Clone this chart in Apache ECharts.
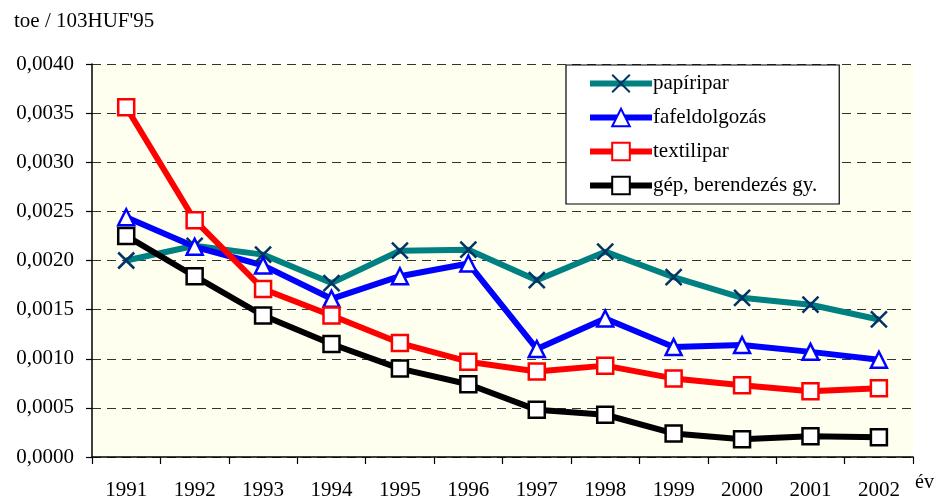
<!DOCTYPE html>
<html><head><meta charset="utf-8">
<script src="https://cdn.jsdelivr.net/npm/echarts@6/dist/echarts.min.js"></script>
<style>html,body{margin:0;padding:0;background:#fff}#c{width:937px;height:501px}</style>
</head><body><div id="c"></div>
<script>
const years = ['1991','1992','1993','1994','1995','1996','1997','1998','1999','2000','2001','2002'];
const yTicks = [0, 0.0005, 0.001, 0.0015, 0.002, 0.0025, 0.003, 0.0035, 0.004];
const papiripar = [0.00200, 0.00215, 0.00206, 0.00177, 0.00210, 0.00211, 0.00180, 0.00209, 0.00183, 0.00162, 0.00155, 0.00140];
const fafeldolgozas = [0.00244, 0.00214, 0.00195, 0.00161, 0.00184, 0.00197, 0.00110, 0.00141, 0.00112, 0.00114, 0.00107, 0.00099];
const textilipar = [0.00356, 0.00241, 0.00171, 0.00144, 0.00116, 0.00097, 0.00087, 0.00093, 0.00080, 0.00073, 0.00067, 0.00070];
const gep = [0.00225, 0.00184, 0.00144, 0.00115, 0.00090, 0.00074, 0.00048, 0.00043, 0.00024, 0.00018, 0.00021, 0.00020];

const font = 'Liberation Serif';
const chart = echarts.init(document.getElementById('c'));
function mk(name, data, color, symbol, size, symColor, symBorder) {
  return {
    name, type: 'line', data,
    symbol, symbolSize: size, showAllSymbol: true,
    lineStyle: { color, width: 6 },
    itemStyle: { color: symColor, borderColor: symBorder, borderWidth: 2.5 },
    emphasis: { disabled: true },
    z: 2
  };
}
chart.setOption({
  animation: false,
  title: { text: "toe / 103HUF'95", left: 9, top: 6,
    textStyle: { fontFamily: font, fontSize: 21, fontWeight: 'normal', color: '#000' } },
  grid: { left: 92, right: 17, top: 64, bottom: 40, show: true, backgroundColor: '#FFFFF0', borderWidth: 0 },
  legend: {
    orient: 'vertical', left: 566, top: 65,
    padding: [8, 22, 8, 21], itemGap: 13, itemWidth: 62, itemHeight: 22,
    backgroundColor: '#fff', borderColor: '#000', borderWidth: 1.2, borderRadius: 0,
    lineStyle: { width: 6 },
    textStyle: { fontFamily: font, fontSize: 21, color: '#000', padding: [0, 0, 0, -4] },
    data: ['papíripar', 'fafeldolgozás', 'textilipar', 'gép, berendezés gy.']
  },
  xAxis: {
    type: 'category', data: years, boundaryGap: true,
    name: 'év', nameLocation: 'end', nameGap: 2,
    nameTextStyle: { fontFamily: font, fontSize: 20, color: '#000', verticalAlign: 'top', padding: [16, 0, 0, 0] },
    axisLine: { lineStyle: { color: '#000', width: 1.5 } },
    axisTick: { show: true, alignWithLabel: false, length: 7, lineStyle: { color: '#000', width: 1.2 } },
    axisLabel: { fontFamily: font, fontSize: 21, color: '#000', margin: 23 },
    splitLine: { show: false }
  },
  yAxis: {
    type: 'value', min: 0, max: 0.004, interval: 0.0005,
    axisLine: { show: true, lineStyle: { color: '#000', width: 1.5 } },
    axisTick: { show: true, length: 6, lineStyle: { color: '#000', width: 1.2 } },
    axisLabel: { fontFamily: font, fontSize: 21, color: '#000', margin: 18,
      formatter: v => v.toFixed(4).replace('.', ',') },
    splitLine: { show: true, lineStyle: { color: '#333', type: [9, 6], width: 1 } }
  },
  series: [
    mk('papíripar', papiripar, '#008080', 'path://M0,0L10,10M10,0L0,10', 16, 'rgba(0,0,0,0)', '#003366'),
    mk('fafeldolgozás', fafeldolgozas, '#0000FF', 'triangle', 16, '#fff', '#0000FF'),
    mk('textilipar', textilipar, '#FF0000', 'rect', 16, '#fff', '#FF0000'),
    mk('gép, berendezés gy.', gep, '#000000', 'rect', 16, '#fff', '#000000')
  ]
});
</script></body></html>
